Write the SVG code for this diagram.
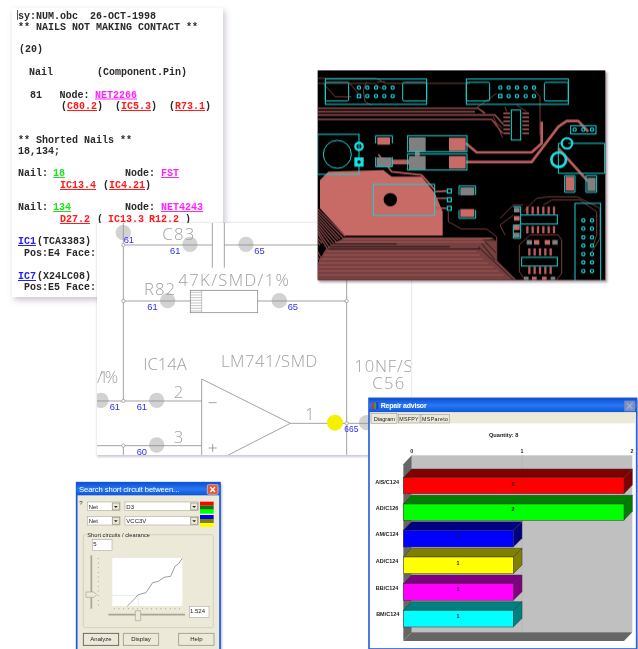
<svg xmlns="http://www.w3.org/2000/svg" width="638" height="649" viewBox="0 0 638 649">
<defs>
<filter id="soft" x="-2%" y="-2%" width="104%" height="104%"><feGaussianBlur stdDeviation="0.45"/></filter>
<filter id="sh" x="-10%" y="-10%" width="120%" height="120%"><feGaussianBlur stdDeviation="3"/></filter>
<linearGradient id="tb" x1="0" y1="0" x2="0" y2="1"><stop offset="0" stop-color="#0a4fd8"/><stop offset="0.5" stop-color="#2a78f0"/><stop offset="1" stop-color="#0a55dc"/></linearGradient>
<clipPath id="sc"><rect x="6" y="9" width="942" height="696"/></clipPath>
<clipPath id="pc"><rect x="23" y="16" width="863" height="629"/></clipPath>
</defs>
<style>
.m{font-family:"Liberation Mono",monospace;font-weight:700;font-size:10px;fill:#2a2a2a}
.r{fill:#ff1a1a;text-decoration:underline}
.g{fill:#22dd22;text-decoration:underline}
.p{fill:#ff22ff;text-decoration:underline}
.b{fill:#2222ee;text-decoration:underline}
.w{fill:none;stroke:#8c8c8c;stroke-width:2.4}
.j{fill:#fff;stroke:#8c8c8c;stroke-width:2}
.h{fill:#d2d2d2}
.n{font-family:"Liberation Sans",sans-serif;font-size:28px;fill:#3030f0}
.t{font-family:"Open Sans",sans-serif;font-weight:300;font-size:50px;fill:#a0a0a0}
.c{fill:none;stroke:#18d4d4;stroke-width:3}
.k{fill:none;stroke:#b85c5c;stroke-linejoin:round}
.f{fill:none;stroke:#7a3c3c;stroke-width:3;stroke-linejoin:round}
.o{fill:#808080}
.s{fill:#c86a66}
.d{fill:none;stroke:#18d4d4;stroke-width:3.5}
.ui{font-family:"Liberation Sans",sans-serif;font-size:18px;fill:#222}
.wt{font-family:"Liberation Sans",sans-serif;font-weight:700;font-size:21px;fill:#fff}
.bar{stroke:#333;stroke-width:1.5}
.btn{fill:#ece9d8;stroke:#9a9a8c;stroke-width:2.5}
.fld{fill:#fff;stroke:#9a9a8c;stroke-width:1.5}
.lb{font-family:"Liberation Sans",sans-serif;font-weight:700;font-size:16.5px;fill:#222;text-anchor:end}
.v{font-family:"Liberation Sans",sans-serif;font-weight:700;font-size:16px;fill:#222;text-anchor:middle}
</style>
<rect width="638" height="649" fill="#fff"/>
<g filter="url(#soft)">
<g id="report">
<rect x="14" y="11" width="211" height="289" fill="#a090a8" opacity="0.55" filter="url(#sh)"/>
<rect x="12" y="8" width="211" height="289" fill="#fff"/>
<path d="M17.5 10V20" stroke="#333" stroke-width="0.8"/>
<text class="m" x="18" y="18.500">sy:NUM.obc<tspan x="90">26-OCT-1998</tspan></text>
<text class="m" x="18" y="29.500">** NAILS NOT MAKING CONTACT **</text>
<text class="m" x="19" y="52">(20)</text>
<text class="m" x="29" y="75">Nail</text>
<text class="m" x="97" y="75">(Component.Pin)</text>
<text class="m" x="30" y="97.500">81</text>
<text class="m" x="59.500" y="97.500">Node:</text>
<text class="m p" x="95" y="97.500">NET2266</text>
<text class="m" x="61" y="109">(<tspan class="r">C80.2</tspan>)</text>
<text class="m" x="115" y="109">(<tspan class="r">IC5.3</tspan>)</text>
<text class="m" x="169" y="109">(<tspan class="r">R73.1</tspan>)</text>
<text class="m" x="18" y="143">** Shorted Nails **</text>
<text class="m" x="18" y="154">18,134;</text>
<text class="m" x="18" y="176">Nail:</text>
<text class="m g" x="53" y="176">18</text>
<text class="m" x="125" y="176">Node:</text>
<text class="m p" x="161" y="176">FST</text>
<text class="m r" x="60" y="188">IC13.4</text>
<text class="m" x="103" y="188">(<tspan class="r">IC4.21</tspan>)</text>
<text class="m" x="18" y="210">Nail:</text>
<text class="m g" x="53" y="210">134</text>
<text class="m" x="125" y="210">Node:</text>
<text class="m p" x="161" y="210">NET4243</text>
<text class="m r" x="60" y="222">D27.2</text>
<text class="m" x="97" y="222">(</text>
<text class="m r" x="108" y="222">IC13.3</text>
<text class="m r" x="149" y="222">R12.2</text>
<text class="m" x="185" y="222">)</text>
<text class="m b" x="18" y="244">IC1</text>
<text class="m" x="37" y="244">(TCA3383)</text>
<text class="m" x="24" y="256">Pos:E4 Face:'</text>
<text class="m b" x="18" y="279">IC7</text>
<text class="m" x="37" y="279">(X24LC08)</text>
<text class="m" x="24" y="290">Pos:E5 Face:'</text>
</g>
<g id="schematic" transform="translate(95 220) scale(.33333)">
<rect x="6" y="9" width="942" height="702" fill="#a090a8" opacity="0.5" filter="url(#sh)"/>
<rect x="6" y="9" width="942" height="696" fill="#fff"/>
<g clip-path="url(#sc)">
<circle class="h" cx="85" cy="38" r="23"/><circle class="h" cx="285" cy="73" r="23"/><circle class="h" cx="453" cy="73" r="23"/>
<circle class="h" cx="218" cy="242" r="23"/><circle class="h" cx="553" cy="242" r="23"/><circle class="h" cx="18" cy="541" r="23"/><circle class="h" cx="185" cy="541" r="23"/><circle class="h" cx="185" cy="675" r="23"/><circle class="h" cx="815" cy="608" r="23"/>
<path class="w" d="M85 9V543M85 677V705M85 75H352M388 75H670M352 9V143M388 9V143M85 243H285M488 243H755M755 180V705M6 543H320M6 677H320M320 477V705M320 477L586 610L400 705M586 610H850M341 548H365M341 684H365M353 672V696"/>
<rect x="286" y="211" width="202" height="67" fill="#fff" stroke="#8c8c8c" stroke-width="2.400"/>
<path d="M286 217H320M286 225H320M286 233H320M286 241H320M286 249H320M286 257H320M286 265H320M286 273H320M320 211V278" stroke="#8c8c8c" stroke-width="1.500"/>
<circle class="j" cx="85" cy="75" r="5"/><circle class="j" cx="85" cy="243" r="5"/><circle class="j" cx="755" cy="243" r="5"/><circle class="j" cx="85" cy="543" r="5"/><circle class="j" cx="85" cy="677" r="5"/><circle class="j" cx="755" cy="610" r="5"/>
<circle cx="720" cy="608" r="24" fill="#f4f000"/>
<text class="n" x="86" y="69">61</text><text class="n" x="225" y="101">61</text><text class="n" x="478" y="101">65</text>
<text class="n" x="157" y="270">61</text><text class="n" x="578" y="270">65</text>
<text class="n" x="44" y="571">61</text><text class="n" x="125" y="571">61</text><text class="n" x="125" y="704">60</text>
<text class="n" x="748" y="637" textLength="42" lengthAdjust="spacingAndGlyphs">665</text>
<text class="t" x="202" y="59" textLength="96">C83</text>
<text class="t" x="250" y="197" textLength="332">47K/SMD/1%</text>
<text class="t" x="147" y="225" textLength="93">R82</text>
<text class="t" x="145" y="449" textLength="130">IC14A</text>
<text class="t" x="378" y="442" textLength="289">LM741/SMD</text>
<text class="t" x="778" y="457" textLength="175">10NF/S</text>
<text class="t" x="832" y="508" textLength="96">C56</text>
<text class="t" x="6" y="488" textLength="64">/1%</text>
<text class="t" x="236" y="534">2</text><text class="t" x="236" y="668">3</text><text class="t" x="630" y="600">1</text>
</g>
</g>
<g id="pcb" transform="translate(310 65) scale(.33333)">
<rect x="27" y="22" width="865" height="630" fill="#806070" opacity="0.6" filter="url(#sh)"/>
<rect x="23" y="16" width="863" height="629" fill="#000"/>
<g clip-path="url(#pc)">
<path class="f" d="M23 40H200L225 55H480M23 55H195L215 72M40 55L75 95H125M115 50L145 85M170 50L160 75L165 110L185 120M200 52L225 50M500 128L560 85M585 125L590 140M670 72L690 95V210M620 120L650 140"/>
<g fill="none" stroke="#8a4a4a" style="stroke-width:5"><path d="M23 130H505L525 145M23 140H495M23 150H555L580 178M23 163H545L578 205"/></g>
<path class="f" d="M545 163L578 190M550 155L578 218"/>
<g id="traces-bottom-left" fill="none" stroke="#8a4a4a" style="stroke-width:3.500">
<path d="M23 432L105 514M23 441L100 520M23 450L90 522M23 459L84 525M23 468L78 530M23 477L72 536M23 486L66 542M23 495L58 548M23 504L52 552M23 520L36 535M23 530L30 540M23 560L40 590M23 575L32 590"/>
</g>
<polygon points="105,517 545,517 560,530 560,585 620,645 23,645 23,595 45,555 62,540" fill="#774040"/>
<g fill="none" stroke="#000" style="stroke-width:2"><path d="M70 537H260M60 545H420M55 552H510M525 530L560 565M515 535L555 585M505 545L610 645M520 525H560"/></g>
<g fill="none" stroke="#a85a5a" style="stroke-width:2.500"><path d="M100 522H540M75 531H525M50 559H500M40 570H510M30 582H520M26 594H535M26 606H550M26 618H565M26 630H580"/></g>
<path class="f" d="M415 440V470L455 492H530L560 515V590M570 460L610 420H640M585 510L570 480L610 450M640 440L680 400L720 395H800L870 430V520L840 570M700 420L725 405H810L860 440V510L850 540M628 540L660 510H745L755 525V625L740 645M628 540V620L645 645"/>
<polygon class="s" points="30,345 55,320 220,315 245,335 335,335 375,385 398,440 398,512 105,512 30,430"/>
<circle cx="241" cy="404" r="20" fill="#000"/>
<path class="k" style="stroke-width:8" d="M467 234L500 262H665L695 235V170"/>
<path class="k" style="stroke-width:8" d="M467 291H665L745 185L770 168H805L835 200"/>
<path class="k" style="stroke-width:8" d="M745 250L835 350"/>
<path class="k" style="stroke-width:14" d="M245 291H297M322 258V275"/>
<path class="k" style="stroke-width:5" d="M205 268L245 320L335 330L375 375M375 400H410M375 380L410 378M375 428L410 430"/>
<rect class="o" x="297" y="217" width="50" height="42"/><rect class="s" x="417" y="218" width="50" height="40"/>
<rect class="o" x="297" y="273" width="50" height="40"/><rect class="s" x="417" y="273" width="50" height="38"/>
<rect class="o" x="200" y="277" width="45" height="27"/><rect class="s" x="202" y="217" width="38" height="22"/>
<rect class="o" x="451" y="367" width="42" height="24"/><rect class="s" x="451" y="432" width="42" height="24"/>
<rect class="s" x="767" y="335" width="25" height="42"/><rect class="o" x="832" y="338" width="25" height="40"/>
<g class="c">
<rect x="46" y="42" width="304" height="76"/><rect x="46" y="52" width="70" height="56" rx="5"/><rect x="278" y="52" width="72" height="56" rx="5"/>
<rect x="469" y="42" width="306" height="76"/><rect x="469" y="52" width="70" height="56" rx="5"/><rect x="703" y="52" width="72" height="56" rx="5"/>
<rect x="23" y="208" width="124" height="120"/><circle cx="82" cy="268" r="42"/>
<rect x="293" y="212" width="178" height="48"/><rect x="293" y="267" width="178" height="48"/>
<rect x="190" y="358" width="184" height="93"/>
<path d="M197 235V212H247V235M197 276V305H247V276M447 390V363H497V390M447 435V460H497V435M764 332H795V382H764ZM828 332H860V382H828Z"/>
<rect x="782" y="182" width="76" height="25"/><path d="M775 235H884V325H745V235H760"/>
<rect x="604" y="135" width="28" height="90"/>
<rect x="795" y="415" width="77" height="235"/><rect x="632" y="450" width="110" height="27"/><rect x="635" y="577" width="107" height="26"/>
<path d="M610 425H632V450M610 480H632V520H610Z"/>
</g>
<g class="d">
<circle cx="147" cy="68" r="5"/><circle cx="172" cy="68" r="5"/><circle cx="198" cy="68" r="5"/><circle cx="223" cy="68" r="5"/><circle cx="248" cy="68" r="5"/>
<rect x="142" y="88" width="10" height="10"/><circle cx="172" cy="93" r="5"/><circle cx="198" cy="93" r="5"/><circle cx="223" cy="93" r="5"/><circle cx="248" cy="93" r="5"/>
<circle cx="571" cy="68" r="5"/><circle cx="596" cy="68" r="5"/><circle cx="621" cy="68" r="5"/><circle cx="647" cy="68" r="5"/><circle cx="672" cy="68" r="5"/>
<rect x="566" y="88" width="10" height="10"/><circle cx="596" cy="93" r="5"/><circle cx="621" cy="93" r="5"/><circle cx="647" cy="93" r="5"/><circle cx="672" cy="93" r="5"/>
<circle cx="794" cy="194" r="5"/><circle cx="820" cy="194" r="5"/><circle cx="846" cy="194" r="5"/>
<rect x="412" y="372" width="12" height="12"/><rect x="412" y="398" width="12" height="12"/><rect x="412" y="424" width="12" height="12"/>
<circle cx="820" cy="466" r="5"/><circle cx="846" cy="466" r="5"/><circle cx="820" cy="491" r="5"/><circle cx="846" cy="491" r="5"/><circle cx="820" cy="517" r="5"/><circle cx="846" cy="517" r="5"/><circle cx="820" cy="542" r="5"/><circle cx="846" cy="542" r="5"/><circle cx="820" cy="567" r="5"/><circle cx="846" cy="567" r="5"/><circle cx="820" cy="592" r="5"/><circle cx="846" cy="592" r="5"/><circle cx="820" cy="618" r="5"/><circle cx="846" cy="618" r="5"/>
</g>
<circle cx="147" cy="244" r="11" fill="none" stroke="#18e0e0" stroke-width="7"/>
<rect x="133" y="277" width="28" height="28" fill="#18e0e0"/><circle cx="147" cy="291" r="5" fill="#000"/>
<circle cx="771" cy="235" r="16" fill="none" stroke="#18e0e0" stroke-width="6"/>
<circle cx="746" cy="284" r="22" fill="none" stroke="#18e0e0" stroke-width="8"/>
<path stroke="#b85c5c" stroke-width="5" fill="none" d="M580 145H600M580 157H600M580 169H600M580 181H600M580 193H600M580 205H600M637 145H657M637 157H657M637 169H657M637 181H657M637 193H657M637 205H657"/>
<path stroke="#b85c5c" stroke-width="7" fill="none" d="M652 425V447M668 425V447M684 425V447M700 425V447M716 425V447M732 425V447M652 483V505M668 483V505M684 483V505M700 483V505M716 483V505M732 483V505M658 550V572M674 550V572M690 550V572M706 550V572M722 550V572M658 605V627M674 605V627M690 605V627M706 605V627M722 605V627"/>
<rect class="o" x="612" y="428" width="17" height="14"/><rect class="s" x="612" y="453" width="17" height="14"/><rect class="s" x="612" y="481" width="17" height="14"/><rect class="o" x="612" y="503" width="17" height="14"/>
<rect class="o" x="650" y="525" width="16" height="14"/><rect class="s" x="672" y="525" width="16" height="14"/><rect class="s" x="704" y="525" width="16" height="14"/><rect class="o" x="727" y="525" width="16" height="14"/>
<rect class="o" x="642" y="635" width="14" height="10"/><rect class="s" x="666" y="635" width="14" height="10"/><rect class="s" x="696" y="635" width="14" height="10"/><rect class="o" x="722" y="635" width="14" height="10"/>
</g>
</g>
<g id="search-dialog" transform="translate(70 478) scale(.33333)">
<rect x="24" y="18" width="432" height="510" fill="#808080" opacity="0.5" filter="url(#sh)"/>
<rect x="20" y="14" width="430" height="510" fill="#ece9d8" stroke="#1a55dc" stroke-width="5"/>
<rect x="20" y="14" width="430" height="38" fill="url(#tb)"/>
<text class="wt" x="27" y="41" textLength="301" style="font-weight:400;font-size:23px">Search short circuit between...</text>
<rect x="412" y="20" width="32" height="29" rx="3" fill="#e5562d" stroke="#fff" stroke-width="1.500"/>
<path d="M421 27L435 42M435 27L421 42" stroke="#fff" stroke-width="4"/>
<text class="ui" x="28" y="82">?</text>
<rect class="fld" x="52" y="72" width="98" height="26"/><rect class="btn" x="127" y="75" width="21" height="21"/>
<text class="ui" x="56" y="92">Net</text><path d="M132 84h11l-5.500 6z" fill="#222"/>
<rect class="fld" x="165" y="72" width="220" height="26"/><rect class="btn" x="362" y="75" width="21" height="21"/>
<text class="ui" x="169" y="92">D3</text><path d="M367 84h11l-5.500 6z" fill="#222"/>
<rect x="390" y="71" width="41" height="12" fill="#ff0000"/><rect x="390" y="83" width="41" height="12" fill="#008000"/><rect x="390" y="95" width="41" height="12" fill="#00ff00"/>
<rect class="fld" x="52" y="115" width="98" height="26"/><rect class="btn" x="127" y="118" width="21" height="21"/>
<text class="ui" x="56" y="135">Net</text><path d="M132 127h11l-5.500 6z" fill="#222"/>
<rect class="fld" x="165" y="115" width="220" height="26"/><rect class="btn" x="362" y="118" width="21" height="21"/>
<text class="ui" x="169" y="135">VCC3V</text><path d="M367 127h11l-5.500 6z" fill="#222"/>
<rect x="390" y="111" width="41" height="12" fill="#0000ff"/><rect x="390" y="123" width="41" height="12" fill="#808000"/><rect x="390" y="135" width="41" height="12" fill="#ffff00"/>
<rect x="40" y="170" width="390" height="279" rx="4" fill="none" stroke="#c8c5b4" stroke-width="2"/>
<rect x="50" y="163" width="192" height="16" fill="#ece9d8"/>
<text class="ui" x="52" y="176" textLength="188" style="font-size:17px">Short circuits / clearance</text>
<rect class="fld" x="67" y="185" width="59" height="33"/><text class="ui" x="70" y="204">5</text>
<rect x="127" y="240" width="210" height="144" fill="#fff"/>
<path d="M127 352H205V384" fill="none" stroke="#aaa" stroke-width="1.500" stroke-dasharray="3 3"/>
<path d="M172 384L185 372L205 350L228 344L248 314L265 310L282 298L302 295L315 265L325 258L337 241" fill="none" stroke="#888" stroke-width="2.500"/>
<path d="M64 232V392" stroke="#a8a594" stroke-width="5"/>
<path d="M48 342H72L80 350L72 358H48Z" fill="#ece9d8" stroke="#a8a594" stroke-width="2"/>
<path d="M85 240V385" stroke="#777" stroke-width="2.500" stroke-dasharray="2 12"/>
<path d="M115 410H345" stroke="#a8a594" stroke-width="5"/>
<path d="M132 392H330" stroke="#777" stroke-width="2.500" stroke-dasharray="2 12"/>
<path d="M196 398H212V428H196Z" fill="#ece9d8" stroke="#a8a594" stroke-width="2"/>
<rect class="fld" x="358" y="385" width="59" height="33"/><text class="ui" x="360" y="404">1.524</text>
<rect class="btn" x="40" y="466" width="106" height="36" style="stroke:#555"/><text class="ui" x="93" y="490" text-anchor="middle">Analyze</text>
<rect class="btn" x="160" y="466" width="106" height="36"/><text class="ui" x="213" y="490" text-anchor="middle">Display</text>
<rect class="btn" x="326" y="466" width="106" height="36"/><text class="ui" x="379" y="490" text-anchor="middle">Help</text>
</g>
<g id="repair-advisor" transform="translate(365 395) scale(.33333)">
<rect x="16" y="14" width="803" height="760" fill="#808080" opacity="0.5" filter="url(#sh)"/>
<rect x="12" y="10" width="803" height="752" fill="#fff" stroke="#2a62d8" stroke-width="5"/>
<rect x="12" y="10" width="803" height="42" fill="url(#tb)"/>
<rect x="20" y="22" width="6" height="20" fill="#d03030"/><rect x="27" y="22" width="6" height="20" fill="#30a030"/><rect x="34" y="22" width="6" height="20" fill="#3030d0"/>
<text class="wt" x="47" y="40" textLength="138">Repair advisor</text>
<rect x="778" y="17" width="32" height="32" fill="#7b8fc0"/>
<path d="M786 25L802 41M802 25L786 41" stroke="#9fb0d8" stroke-width="4"/>
<rect x="15" y="52" width="797" height="33" fill="#ece9d8"/>
<g fill="#ece9d8" stroke="#8e8c80" stroke-width="1.500"><rect x="18" y="56" width="78" height="29"/><rect x="100" y="58" width="65" height="26"/><rect x="168" y="58" width="86" height="26"/></g>
<text class="ui" x="26" y="77" style="font-size:17px">Diagram</text><text class="ui" x="103" y="77" style="font-size:16px" textLength="58">MSFPY</text><text class="ui" x="171" y="77" style="font-size:16px" textLength="78">MSPareto</text>
<text class="v" x="416" y="127" style="font-size:17px">Quantity: 8</text>
<text class="v" x="140" y="175">0</text><text class="v" x="471" y="175">1</text><text class="v" x="801" y="175">2</text>
<rect x="140" y="181" width="662" height="531" fill="#c0c0c0"/>
<polygon points="115,208 140,181 140,712 115,738" fill="#666"/>
<polygon points="115,738 140,712 802,712 777,738" fill="#666"/>
<path d="M471 181V712" stroke="#999" stroke-width="1.500" stroke-dasharray="2 3"/>
<g class="bar"><polygon points="115,248 140,222 802,222 777,248" fill="#800000"/><polygon points="777,248 802,222 802,270 777,296" fill="#800000"/><rect x="115" y="248" width="662" height="48" fill="#ff0000"/></g>
<g class="bar"><polygon points="115,327 140,301 802,301 777,327" fill="#008000"/><polygon points="777,327 802,301 802,349 777,375" fill="#008000"/><rect x="115" y="327" width="662" height="49" fill="#00ff00"/></g>
<g class="bar"><polygon points="115,406 140,380 471,380 445,406" fill="#000080"/><polygon points="445,406 471,380 471,430 445,456" fill="#000080"/><rect x="115" y="406" width="330" height="50" fill="#0000ff"/></g>
<g class="bar"><polygon points="115,486 140,460 471,460 445,486" fill="#808000"/><polygon points="445,486 471,460 471,510 445,536" fill="#808000"/><rect x="115" y="486" width="330" height="50" fill="#ffff00"/></g>
<g class="bar"><polygon points="115,566 140,540 471,540 445,566" fill="#800080"/><polygon points="445,566 471,540 471,590 445,616" fill="#800080"/><rect x="115" y="566" width="330" height="50" fill="#ff00ff"/></g>
<g class="bar"><polygon points="115,646 140,620 471,620 445,646" fill="#008080"/><polygon points="445,646 471,620 471,670 445,696" fill="#008080"/><rect x="115" y="646" width="330" height="50" fill="#00ffff"/></g>
<text class="v" x="444" y="272">2</text><text class="v" x="444" y="349">2</text><text class="v" x="279" y="429">1</text><text class="v" x="279" y="509">1</text><text class="v" x="279" y="589">1</text><text class="v" x="279" y="669">1</text>
<text class="lb" x="102" y="267">AIS/C124</text><text class="lb" x="100" y="344">AD/C126</text><text class="lb" x="101" y="424">AM/C124</text><text class="lb" x="100" y="504">AD/C124</text><text class="lb" x="100" y="584">BB/C124</text><text class="lb" x="103" y="664">BM/C124</text>
</g>
</g>
</svg>
